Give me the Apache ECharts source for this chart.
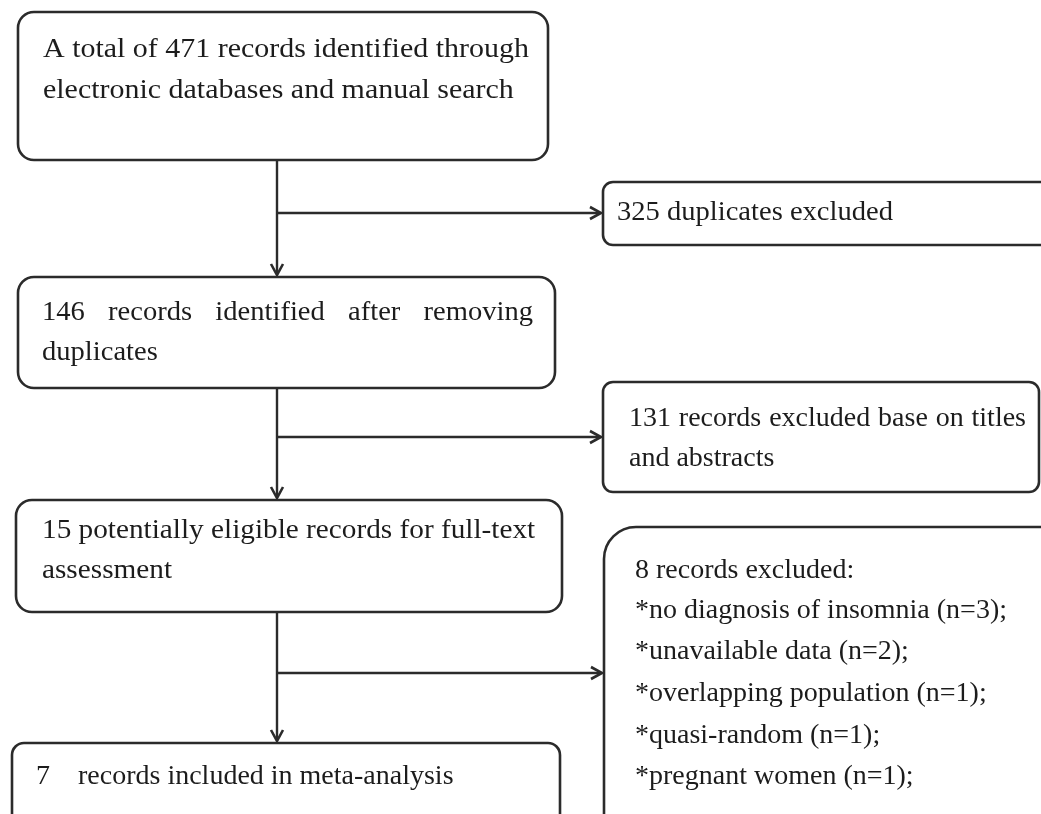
<!DOCTYPE html>
<html><head><meta charset="utf-8">
<script src="https://cdn.jsdelivr.net/npm/echarts@6/dist/echarts.min.js"></script>
<style>html,body{margin:0;padding:0;background:#fff;} #c{width:1041px;height:814px;}</style>
</head><body><div id="c"></div>
<script>
// ---- data ----
const stageCounts = [471, 146, 15, 7];
const excludedCounts = [325, 131, 8];
const reasonLabels = ['no diagnosis of insomnia', 'unavailable data', 'overlapping population', 'quasi-random', 'pregnant women'];
const reasonCounts = [3, 2, 1, 1, 1];

const stageTexts = [
  ['A total of ' + stageCounts[0] + ' records identified through', 'electronic databases and manual search'],
  [stageCounts[1] + ' records identified after removing', 'duplicates'],
  [stageCounts[2] + ' potentially eligible records for full-text', 'assessment'],
  [stageCounts[3] + '    records included in meta-analysis']
];
const excludedTexts = [
  [excludedCounts[0] + ' duplicates excluded'],
  [excludedCounts[1] + ' records excluded base on titles', 'and abstracts'],
  [excludedCounts[2] + ' records excluded:'].concat(reasonLabels.map((l, i) => '*' + l + ' (n=' + reasonCounts[i] + ');'))
];

// ---- layout (positions in page units) ----
const FONT_SIZE = 28;
const FONT_FAMILY = '"Liberation Serif", "Times New Roman", serif';
const FONT = FONT_SIZE + 'px ' + FONT_FAMILY;
const INK = '#1c1c1c';
const LINE = '#2b2b2b';
const stageLayout = [
  { box: [18, 12, 548, 160], r: 16, x: 43, y: [50, 91], sx: 1.07, justify: [null, null] },
  { box: [18, 277, 555, 388], r: 16, x: 42, y: [313, 353], sx: 1.02, justify: [533, null] },
  { box: [16, 500, 562, 612], r: 16, x: 42, y: [531, 571], sx: 1.045, justify: [null, null] },
  { box: [12, 743, 560, 850], r: 12, x: 36, y: [777], sx: 1.0, justify: [null] }
];
const excludedLayout = [
  { box: [603, 182, 1070, 245], r: 10, x: 617, y: [213], sx: 1.02, justify: [null] },
  { box: [603, 382, 1039, 492], r: 10, x: 629, y: [419, 459], sx: 1.0, justify: [1026, null] },
  { box: [604, 527, 1075, 850], r: 32, x: 635, y: [571, 611, 652, 694, 736, 777], sx: 1.0, justify: [null, null, null, null, null, null] }
];
const links = [
  { pts: [[277, 160], [277, 275]] },
  { pts: [[277, 213], [601, 213]] },
  { pts: [[277, 388], [277, 498]] },
  { pts: [[277, 437], [601, 437]] },
  { pts: [[277, 612], [277, 741]] },
  { pts: [[277, 673], [602, 673]] }
];

const boxes = stageTexts.map((t, i) => ({ lines: t, L: stageLayout[i] }))
  .concat(excludedTexts.map((t, i) => ({ lines: t, L: excludedLayout[i] })));

const mctx = document.createElement('canvas').getContext('2d');
mctx.font = FONT;

function textEl(str, x, y, sx) {
  return {
    type: 'text', x: x, y: y, scaleX: sx, scaleY: 1, originX: 0, originY: 0,
    style: { text: str, x: 0, y: 0, fill: INK, font: FONT, textAlign: 'left', textVerticalAlign: 'middle' }
  };
}

function renderBox(params, api) {
  const b = boxes[params.dataIndex];
  const L = b.L;
  const p0 = api.coord([L.box[0], L.box[1]]);
  const p1 = api.coord([L.box[2], L.box[3]]);
  const children = [{
    type: 'rect',
    shape: { x: p0[0], y: p0[1], width: p1[0] - p0[0], height: p1[1] - p0[1], r: L.r },
    style: { fill: '#fff', stroke: LINE, lineWidth: 2.6 }
  }];
  b.lines.forEach((line, k) => {
    const pos = api.coord([L.x, L.y[k]]);
    const jw = L.justify[k];
    if (jw) {
      const endX = api.coord([jw, 0])[0];
      const words = line.split(' ');
      const widths = words.map(w => mctx.measureText(w).width * L.sx);
      const total = widths.reduce((a, c) => a + c, 0);
      const gap = (endX - pos[0] - total) / (words.length - 1);
      let cx = pos[0];
      words.forEach((w, j) => { children.push(textEl(w, cx, pos[1], L.sx)); cx += widths[j] + gap; });
    } else {
      children.push(textEl(line, pos[0], pos[1], L.sx));
    }
  });
  return { type: 'group', children: children };
}

function renderLink(params, api) {
  const pts = links[params.dataIndex].pts.map(p => api.coord(p));
  const a = pts[0], b = pts[1];
  const dx = b[0] - a[0], dy = b[1] - a[1];
  const len = Math.sqrt(dx * dx + dy * dy);
  const ux = dx / len, uy = dy / len;
  const hl = 11, hw = 6;
  const head = [
    [b[0] - ux * hl - uy * hw, b[1] - uy * hl + ux * hw],
    [b[0], b[1]],
    [b[0] - ux * hl + uy * hw, b[1] - uy * hl - ux * hw]
  ];
  return {
    type: 'group', children: [
      { type: 'line', shape: { x1: a[0], y1: a[1], x2: b[0] - ux * 1, y2: b[1] - uy * 1 }, style: { stroke: LINE, lineWidth: 2.4 } },
      { type: 'polyline', shape: { points: head }, style: { stroke: LINE, lineWidth: 2.6, fill: null } }
    ]
  };
}

const chart = echarts.init(document.getElementById('c'), null, { renderer: 'canvas' });
chart.setOption({
  animation: false,
  backgroundColor: '#fff',
  grid: { left: 0, right: 0, top: 0, bottom: 0 },
  xAxis: { type: 'value', min: 0, max: 1041, show: false },
  yAxis: { type: 'value', min: 0, max: 814, inverse: true, show: false },
  series: [
    { type: 'custom', renderItem: renderLink, data: links.map((l) => [l.pts[0][0], l.pts[0][1]]), silent: true, z: 1 },
    { type: 'custom', renderItem: renderBox, data: boxes.map(b => [b.L.box[0], b.L.box[1]]), silent: true, z: 2 }
  ]
});
</script>
</body></html>
